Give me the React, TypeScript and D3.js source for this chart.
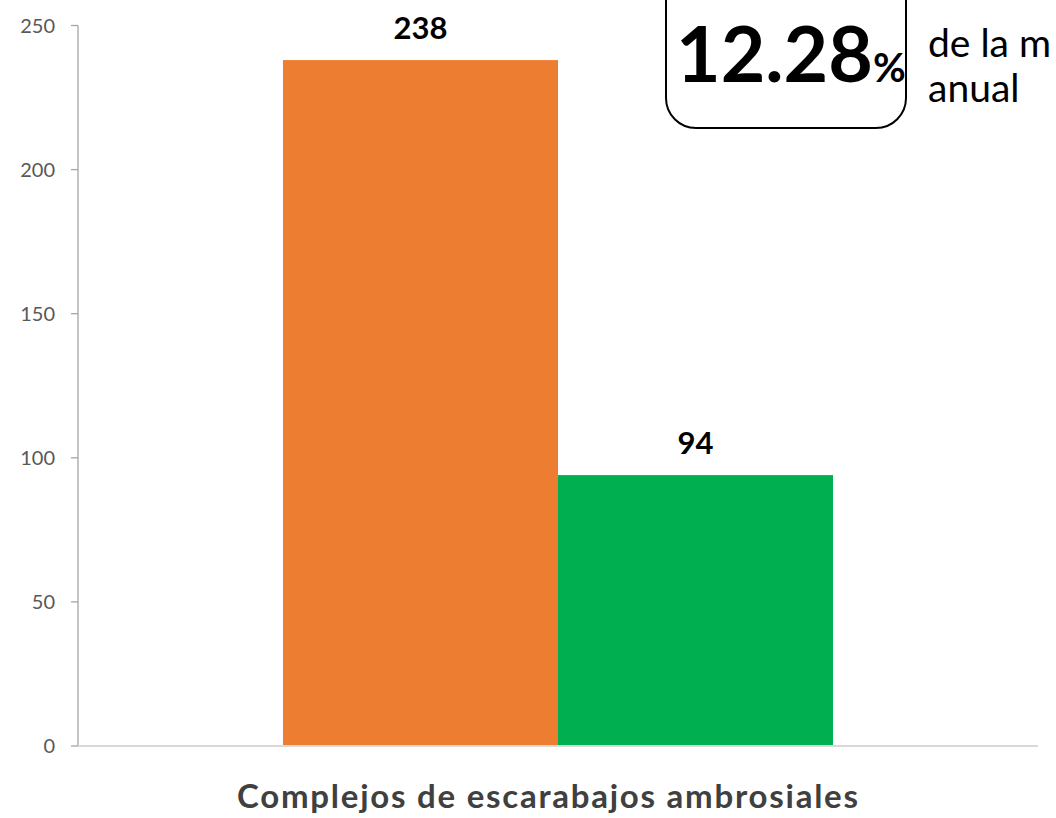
import React from "react";
import * as d3 from "d3";

const categories = ["Complejos de escarabajos ambrosiales"];
const seriesNames = ["Serie 1", "Serie 2"];
const seriesValues = [[238], [94]];
const seriesColors = ["#ED7D31", "#00B050"];
const yTicks = [0, 50, 100, 150, 200, 250];
const calloutValue = "12.28";
const calloutUnit = "%";
const calloutLines = ["de la m", "anual"];

const W = 1056;
const H = 818;
const FONT = "Lato, 'Open Sans', sans-serif";

export default function App() {
  const left = 78;
  const right = 1038;
  const y = d3.scaleLinear().domain([0, 250]).range([746, 25.5]);
  const x0 = d3
    .scaleBand<string>()
    .domain(categories)
    .range([left, right])
    .paddingInner(0)
    .paddingOuter(0.3727);
  const x1 = d3
    .scaleBand<string>()
    .domain(seriesNames)
    .range([0, x0.bandwidth()])
    .padding(0);

  return (
    <svg
      width={W}
      height={H}
      style={{ position: "absolute", left: 0, top: 0, background: "#fff" }}
      fontFamily={FONT}
    >
      {/* y axis */}
      <line x1={left} x2={left} y1={y(250)} y2={y(0)} stroke="#A6A6A6" strokeWidth={1.3} />
      {yTicks.map((t) => (
        <g key={t}>
          <line x1={left - 7} x2={left} y1={y(t)} y2={y(t)} stroke="#A6A6A6" strokeWidth={1.3} />
          <text
            x={55}
            y={y(t)}
            dy="0.35em"
            textAnchor="end"
            fontSize={20}
            fill="#595959"
          >
            {t}
          </text>
        </g>
      ))}

      {/* bars */}
      {categories.map((c, ci) => (
        <g key={c} transform={`translate(${x0(c)},0)`}>
          {seriesNames.map((s, si) => {
            const v = seriesValues[si][ci];
            const bx = x1(s)!;
            return (
              <g key={s}>
                <rect
                  x={bx}
                  y={y(v)}
                  width={x1.bandwidth()}
                  height={y(0) - y(v)}
                  fill={seriesColors[si]}
                />
                <text
                  x={bx + x1.bandwidth() / 2}
                  y={y(v) - 21}
                  textAnchor="middle"
                  fontSize={31}
                  fontWeight="bold"
                  fill="#000"
                >
                  {v}
                </text>
              </g>
            );
          })}
        </g>
      ))}

      {/* x axis */}
      <line x1={left} x2={right} y1={y(0)} y2={y(0)} stroke="#D9D9D9" strokeWidth={2} />

      {/* axis title */}
      {categories.map((c) => (
        <text
          key={c}
          x={237}
          y={808}
          fontSize={33}
          fontWeight="bold"
          fill="#404040"
          textLength={621}
          lengthAdjust="spacing"
        >
          {c}
        </text>
      ))}

      {/* callout box */}
      <rect
        x={666}
        y={-40}
        width={240}
        height={168}
        rx={30}
        ry={30}
        fill="#fff"
        stroke="#000"
        strokeWidth={2}
      />
      <text x={676} y={82} fontFamily={FONT} fontWeight="bold" fill="#000">
        <tspan fontSize={77}>{calloutValue}</tspan>
        <tspan fontSize={40}>{calloutUnit}</tspan>
      </text>
      {calloutLines.map((l, i) => (
        <text key={l} x={928} y={57 + i * 45} fontSize={39} fill="#000">
          {l}
        </text>
      ))}
    </svg>
  );
}
